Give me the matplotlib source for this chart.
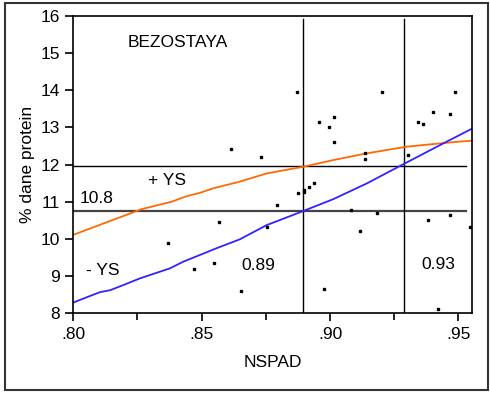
import numpy as np
import matplotlib.pyplot as plt
from matplotlib.patches import Rectangle

plt.rcParams['font.family'] = ['Liberation Sans', 'DejaVu Sans']

# scatter points (NSPAD, % protein)
nspad = [0.8369, 0.8471, 0.8549, 0.8569, 0.8614, 0.8653, 0.8731, 0.8755, 0.8794,
         0.8873, 0.8874, 0.8898, 0.8900, 0.8917, 0.8937, 0.8957, 0.8975, 0.8996,
         0.9015, 0.9015, 0.9081, 0.9118, 0.9138, 0.9138, 0.9183, 0.9203, 0.9305,
         0.9344, 0.9364, 0.9383, 0.9403, 0.9422, 0.9467, 0.9468, 0.9487, 0.9545]
protein = [9.89, 9.18, 9.34, 10.46, 12.42, 8.60, 12.21, 10.33, 10.91,
           13.94, 11.23, 11.31, 11.27, 11.40, 11.49, 13.13, 8.65, 13.01,
           13.27, 12.60, 10.78, 10.20, 12.30, 12.16, 10.70, 13.94, 12.25,
           13.13, 13.09, 10.52, 13.40, 8.11, 10.64, 13.37, 13.94, 10.33]

# +YS curve (orange)
plus_x = [0.800, 0.8266, 0.8383, 0.8442, 0.8494, 0.8545, 0.8649, 0.8753, 0.8896,
          0.9013, 0.9143, 0.9299, 0.9403, 0.9494, 0.9552]
plus_y = [10.11, 10.80, 11.00, 11.15, 11.24, 11.36, 11.54, 11.76, 11.94,
          12.12, 12.30, 12.48, 12.55, 12.61, 12.64]

# -YS curve (blue)
minus_x = [0.800, 0.8104, 0.8143, 0.8195, 0.8260, 0.8377, 0.8429, 0.8494, 0.8558,
           0.8649, 0.8753, 0.8896, 0.9013, 0.9143, 0.9286, 0.9403, 0.9442, 0.9552]
minus_y = [8.29, 8.57, 8.62, 8.76, 8.94, 9.21, 9.39, 9.57, 9.75,
           9.99, 10.37, 10.75, 11.07, 11.49, 12.01, 12.43, 12.57, 12.96]

hlines = [11.96, 10.76]
vlines = [0.8896, 0.9290]

fig = plt.figure(figsize=(4.9, 3.94), dpi=100)
ax = fig.add_axes([0.1496, 0.2048, 0.8131, 0.7553])

ax.axhline(hlines[0], xmax=0.985, color='black', lw=1.0)
ax.axhline(hlines[1], xmax=0.985, color='#444444', lw=1.6)
for v in vlines:
    ax.axvline(v, ymax=0.99, color='black', lw=1.0)

ax.plot(plus_x, plus_y, color='#ff6a00', lw=1.3)
ax.plot(minus_x, minus_y, color='#3322ff', lw=1.3)
ax.plot(nspad, protein, 'ks', ms=2.0, ls='none')

ax.text(0.8213, 15.27, 'BEZOSTAYA', fontsize=12.5, va='center')
ax.text(0.8291, 11.58, '+ YS', fontsize=12.5, va='center')
ax.text(0.8026, 11.09, '10.8', fontsize=12.5, va='center')
ax.text(0.8050, 9.16, '- YS', fontsize=12.5, va='center')
ax.text(0.8656, 9.28, '0.89', fontsize=12.5, va='center')
ax.text(0.9355, 9.30, '0.93', fontsize=12.5, va='center')

ax.set_xlim(0.80, 0.9552)
ax.set_ylim(8, 16)
ax.set_xticks([0.80, 0.85, 0.90, 0.95])
ax.set_xticklabels(['.80', '.85', '.90', '.95'])
ax.set_xticks([0.825, 0.875, 0.925], minor=True)
ax.set_yticks(range(8, 17))
ax.tick_params(axis='both', which='major', labelsize=12.5, length=6, width=1.2, direction='out')
ax.tick_params(axis='x', which='minor', length=5, width=1.2, direction='out')
ax.set_xlabel('NSPAD', fontsize=12.5, labelpad=10)
ax.set_ylabel('% dane protein', fontsize=12.5)
for s in ax.spines.values():
    s.set_linewidth(1.2)

fig.patches.append(Rectangle((5 / 490, 1 - 390 / 394), 483 / 490, 387 / 394,
                             transform=fig.transFigure, fill=False,
                             edgecolor='#333333', lw=1.5))

fig.savefig('out.png', dpi=100)
